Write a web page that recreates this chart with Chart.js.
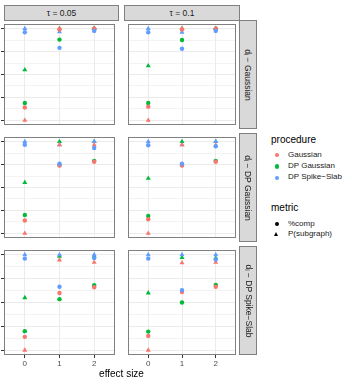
<!DOCTYPE html>
<html>
<head>
<meta charset="utf-8">
<script src="https://cdn.jsdelivr.net/npm/chart.js@4"></script>
<style>
  body { margin: 0; background: #fff; font-family: "Liberation Sans", Arial, sans-serif; }
  #page { position: relative; width: 352px; height: 384px; overflow: hidden; }
  canvas { position: absolute; }
  .strip { position: absolute; box-sizing: border-box; background: #D9D9D9; border: 1px solid #808080;
           color: #1A1A1A; font-size: 8.5px; display: flex; align-items: center; justify-content: center; }
  .strip.right span { transform: rotate(90deg); white-space: nowrap; }
  .txt { position: absolute; white-space: nowrap; line-height: 1; }
  .dot { position: absolute; width: 4.4px; height: 4.4px; border-radius: 50%; }
  .tri { position: absolute; width: 0; height: 0; border-left: 2.6px solid transparent;
         border-right: 2.6px solid transparent; border-bottom: 4.4px solid #000; }
</style>
</head>
<body>
<div id="page"></div>
<script>
// data
const effectSize = [0, 1, 2];
const tauLabels = ['τ = 0.05', 'τ = 0.1'];
const dataLabels = ['dᵢ − Gaussian', 'dᵢ − DP Gaussian', 'dᵢ − DP Spike−Slab'];
const procedures = ['Gaussian', 'DP Gaussian', 'DP Spike−Slab'];
const metrics = ['%comp', 'P(subgraph)'];
const yTicks = [0, 0.25, 0.5, 0.75, 1];

// [data row][tau][effect size]
const compGaussian = [
  [[0.14, 0.99, 1.0], [0.15, 0.99, 1.0]],
  [[0.14, 0.74, 0.78], [0.155, 0.74, 0.78]],
  [[0.14, 0.60, 0.66], [0.15, 0.61, 0.665]]
];
const compDPGaussian = [
  [[0.19, 0.88, 1.0], [0.19, 0.875, 1.0]],
  [[0.20, 0.745, 0.79], [0.19, 0.745, 0.79]],
  [[0.20, 0.535, 0.68], [0.195, 0.50, 0.685]]
];
const compSpikeSlab = [
  [[0.96, 0.79, 0.975], [0.96, 0.78, 0.975]],
  [[0.965, 0.76, 0.93], [0.96, 0.76, 0.95]],
  [[0.96, 0.665, 0.965], [0.96, 0.63, 0.95]]
];
const subGaussian = [
  [[0.0, 1.0, 1.0], [0.0, 1.0, 1.0]],
  [[0.0, 0.965, 0.965], [0.0, 0.965, 0.96]],
  [[0.0, 0.945, 0.92], [0.0, 0.915, 0.92]]
];
const subDPGaussian = [
  [[0.55, 1.0, 1.0], [0.595, 1.0, 1.0]],
  [[0.555, 1.0, 1.0], [0.60, 1.0, 1.0]],
  [[0.55, 0.985, 0.985], [0.60, 0.97, 0.965]]
];
const subSpikeSlab = [
  [[1.0, 0.965, 1.0], [1.0, 0.96, 1.0]],
  [[1.0, 0.965, 1.0], [1.0, 0.965, 1.0]],
  [[1.0, 1.0, 1.0], [1.0, 1.0, 1.0]]
];

const colors = ['#F8766D', '#00BA38', '#619CFF'];

// layout of the facet grid
const colLeft = [4, 124], colWidth = [115, 116];
const rowTop = [20, 133, 246], rowHeight = 109;
const page = document.getElementById('page');

function el(cls, css, html) {
  const d = document.createElement('div');
  d.className = cls;
  Object.assign(d.style, css);
  if (html !== undefined) d.innerHTML = html;
  page.appendChild(d);
  return d;
}

const panelBorder = {
  id: 'panelBorder',
  afterDatasetsDraw(chart) {
    const a = chart.chartArea, ctx = chart.ctx;
    ctx.save();
    ctx.strokeStyle = '#808080';
    ctx.lineWidth = 1;
    ctx.strokeRect(a.left + 0.5, a.top + 0.5, a.right - a.left - 1, a.bottom - a.top - 1);
    ctx.restore();
  }
};

function pts(arr) {
  return effectSize.map((x, i) => ({ x: x, y: arr[i] }));
}

function makePanel(r, c) {
  const isLeft = c === 0, isBottom = r === 2;
  const padL = isLeft ? 4 : 0, padB = isBottom ? 17 : 0;
  const canvas = document.createElement('canvas');
  canvas.width = colWidth[c] + padL;
  canvas.height = rowHeight + padB;
  canvas.style.left = (colLeft[c] - padL) + 'px';
  canvas.style.top = rowTop[r] + 'px';
  page.appendChild(canvas);

  const ds = (data, color, style, radius, order) => ({
    data: pts(data[r][c]),
    backgroundColor: color, borderColor: color, borderWidth: 0,
    pointStyle: style, pointRadius: radius, clip: false,
    order: order // higher order is drawn first
  });

  // draw order: triangles (green, blue, red) then circles (green, red, blue)
  const datasets = [
    ds(subDPGaussian, colors[1], 'triangle', 2.9, 6),
    ds(subSpikeSlab, colors[2], 'triangle', 2.9, 5),
    ds(subGaussian, colors[0], 'triangle', 2.9, 4),
    ds(compDPGaussian, colors[1], 'circle', 2.2, 3),
    ds(compGaussian, colors[0], 'circle', 2.2, 2),
    ds(compSpikeSlab, colors[2], 'circle', 2.2, 1)
  ];

  const yGrid = [];
  for (let i = 0; i <= 8; i++) yGrid.push(i * 0.125);

  new Chart(canvas, {
    type: 'scatter',
    data: { datasets },
    options: {
      responsive: false,
      animation: false,
      devicePixelRatio: 1,
      layout: { padding: 0 },
      plugins: { legend: { display: false }, tooltip: { enabled: false } },
      scales: {
        x: {
          type: 'linear', min: -0.6, max: 2.6,
          afterBuildTicks: s => { s.ticks = effectSize.map(v => ({ value: v })); },
          afterFit: s => { s.height = padB; },
          border: { display: false },
          grid: { color: '#EBEBEB', lineWidth: 1, drawTicks: isBottom, tickLength: 3, tickColor: '#333' },
          ticks: { display: isBottom, color: '#4D4D4D', font: { size: 8, family: 'Liberation Sans' }, padding: 1, maxRotation: 0 }
        },
        y: {
          type: 'linear', min: -0.05, max: 1.05,
          afterBuildTicks: s => { s.ticks = yGrid.map(v => ({ value: v })); },
          afterFit: s => { s.width = padL; },
          border: { display: false },
          grid: {
            color: '#EBEBEB',
            lineWidth: ctx => (ctx.index % 2 === 0 ? 1 : 0.6),
            drawTicks: isLeft, tickLength: 3,
            tickColor: ctx => (yTicks.includes(yGrid[ctx.index]) ? '#333' : 'rgba(0,0,0,0)')
          },
          ticks: { display: false }
        }
      }
    },
    plugins: [panelBorder]
  });
}

for (let r = 0; r < 3; r++) for (let c = 0; c < 2; c++) makePanel(r, c);

// facet strips
tauLabels.forEach((t, c) => {
  el('strip', { left: colLeft[c] + 'px', top: '5px', width: colWidth[c] + 'px', height: '16px' }, '<span>' + t + '</span>');
});
dataLabels.forEach((t, r) => {
  el('strip right', { left: '239px', top: rowTop[r] + 'px', width: '18px', height: rowHeight + 'px' }, '<span>' + t + '</span>');
});

// axis title
el('txt', { left: '121.5px', top: '369px', fontSize: '10px', color: '#000', transform: 'translateX(-50%)' }, 'effect size');

// legends
el('txt', { left: '271px', top: '135px', fontSize: '10px' }, 'procedure');
const procY = [155, 166.5, 177.7];
procedures.forEach((p, i) => {
  el('dot', { left: '274.8px', top: (procY[i] - 2.2) + 'px', background: colors[i] });
  el('txt', { left: '288px', top: (procY[i] - 4.3) + 'px', fontSize: '8px', color: '#1A1A1A' }, p);
});
el('txt', { left: '271px', top: '203px', fontSize: '10px' }, 'metric');
const metY = [224, 234.3];
el('dot', { left: '274.8px', top: (metY[0] - 2.2) + 'px', background: '#000' });
el('tri', { left: '274.4px', top: (metY[1] - 2.4) + 'px' });
metrics.forEach((m, i) => {
  el('txt', { left: '288px', top: (metY[i] - 4.3) + 'px', fontSize: '8px', color: '#1A1A1A' }, m);
});
</script>
</body>
</html>
